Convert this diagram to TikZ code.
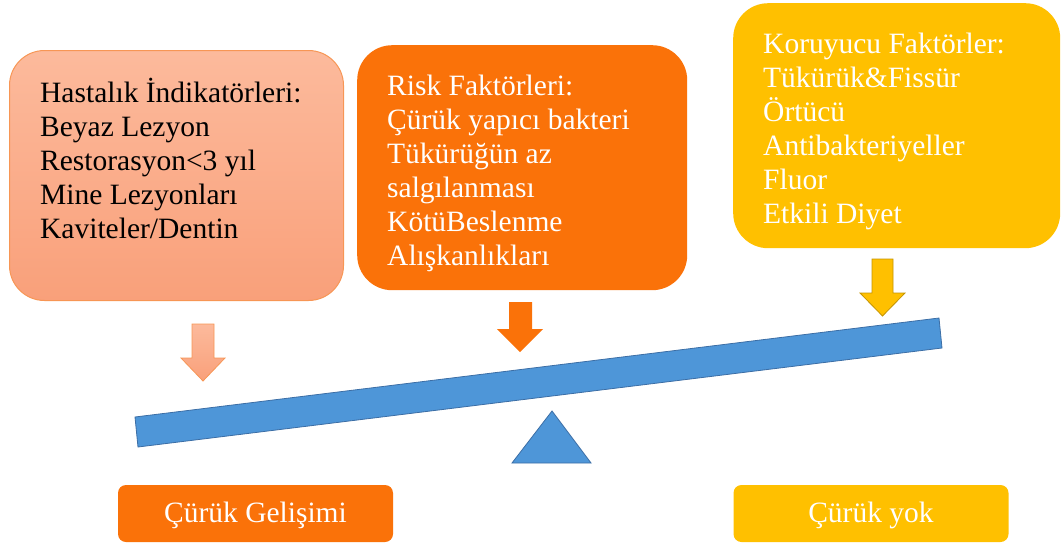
\documentclass[tikz,border=0pt]{standalone}
\usepackage{fontspec}
\setmainfont{Liberation Serif}
\usepackage{tikz}
\usetikzlibrary{
    positioning,
    calc
}
\definecolor{salmonTop}{RGB}{252,186,156}
\definecolor{salmonBot}{RGB}{249,160,122}
\definecolor{salmonLine}{RGB}{247,150,85}
\definecolor{riskOrange}{RGB}{250,114,9}
\definecolor{guardGold}{RGB}{255,192,0}
\definecolor{goldLine}{RGB}{196,148,0}
\definecolor{beamBlue}{RGB}{78,150,216}
\definecolor{beamLine}{RGB}{60,110,165}

\tikzset{
    card/.style={anchor=north west, rounded corners=35pt, inner sep=0pt},
    cardtext/.style={anchor=north west, inner sep=0pt, align=left,
        font=\fontsize{29.5}{34}\selectfont},
    tag/.style={rounded corners=8pt, minimum width=275pt, minimum height=57pt,
        inner sep=0pt, text=white, text height=21pt, text depth=3pt,
        font=\fontsize{29.5}{34}\selectfont}
}

\begin{document}
\begin{tikzpicture}[x=1pt, y=-1pt]
    \useasboundingbox (0,0) rectangle (1061,544);

    % the three boxes
    \node[card, minimum width=334pt, minimum height=250pt,
          top color=salmonTop, bottom color=salmonBot,
          draw=salmonLine, line width=1pt] (ind) at (9,50) {};
    \node[card, minimum width=330pt, minimum height=245pt,
          fill=riskOrange] (risk) at (357,45) {};
    \node[card, minimum width=327pt, minimum height=245pt,
          fill=guardGold] (guard) at (733,3) {};

    \node[cardtext] (indtext) at ([xshift=31pt, yshift=-25pt]ind.north west)
        {\rule{0pt}{27pt}Hastalık İndikatörleri:\\Beyaz Lezyon\\Restorasyon<3 yıl\\Mine Lezyonları\\Kaviteler/Dentin};
    \node[cardtext, text=white] (risktext) at ([xshift=30pt, yshift=-23pt]risk.north west)
        {\rule{0pt}{27pt}Risk Faktörleri:\\Çürük yapıcı bakteri\\Tükürüğün az\\salgılanması\\KötüBeslenme\\Alışkanlıkları};
    \node[cardtext, text=white] (guardtext) at ([xshift=30pt, yshift=-23pt]guard.north west)
        {\rule{0pt}{27pt}Koruyucu Faktörler:\\Tükürük\&Fissür\\Örtücü\\Antibakteriyeller\\Fluor\\Etkili Diyet};

    % down arrows
    \draw[top color=salmonTop, bottom color=salmonBot, draw=salmonLine, line width=0.8pt]
        (192,324) -- (214,324) -- (214,358) -- (225,358) -- (203,381)
        -- (181,358) -- (192,358) -- cycle;
    \fill[riskOrange]
        (509,302) -- (532,302) -- (532,329) -- (543,329) -- (520,352)
        -- (497,329) -- (509,329) -- cycle;
    \draw[fill=guardGold, draw=goldLine, line width=0.8pt]
        (872,259) -- (893,259) -- (893,293) -- (905,293) -- (882.5,316)
        -- (860,293) -- (872,293) -- cycle;

    % beam and pivot
    \coordinate (bl) at (135,417);
    \coordinate (br) at (939,318);
    \draw[fill=beamBlue, draw=beamLine, line width=0.8pt]
        (bl) -- (br) -- (942,348) -- (138,447) -- cycle;
    \draw[fill=beamBlue, draw=beamLine, line width=0.8pt]
        (512,463) -- (552,411) -- (591,463) -- cycle;

    % outcome tags
    \node[tag, fill=riskOrange] (decay) at (255.5,513.5) {Çürük Gelişimi};
    \node[tag, fill=guardGold] (nodecay) at (871,513.5) {Çürük yok};
\end{tikzpicture}
\end{document}
